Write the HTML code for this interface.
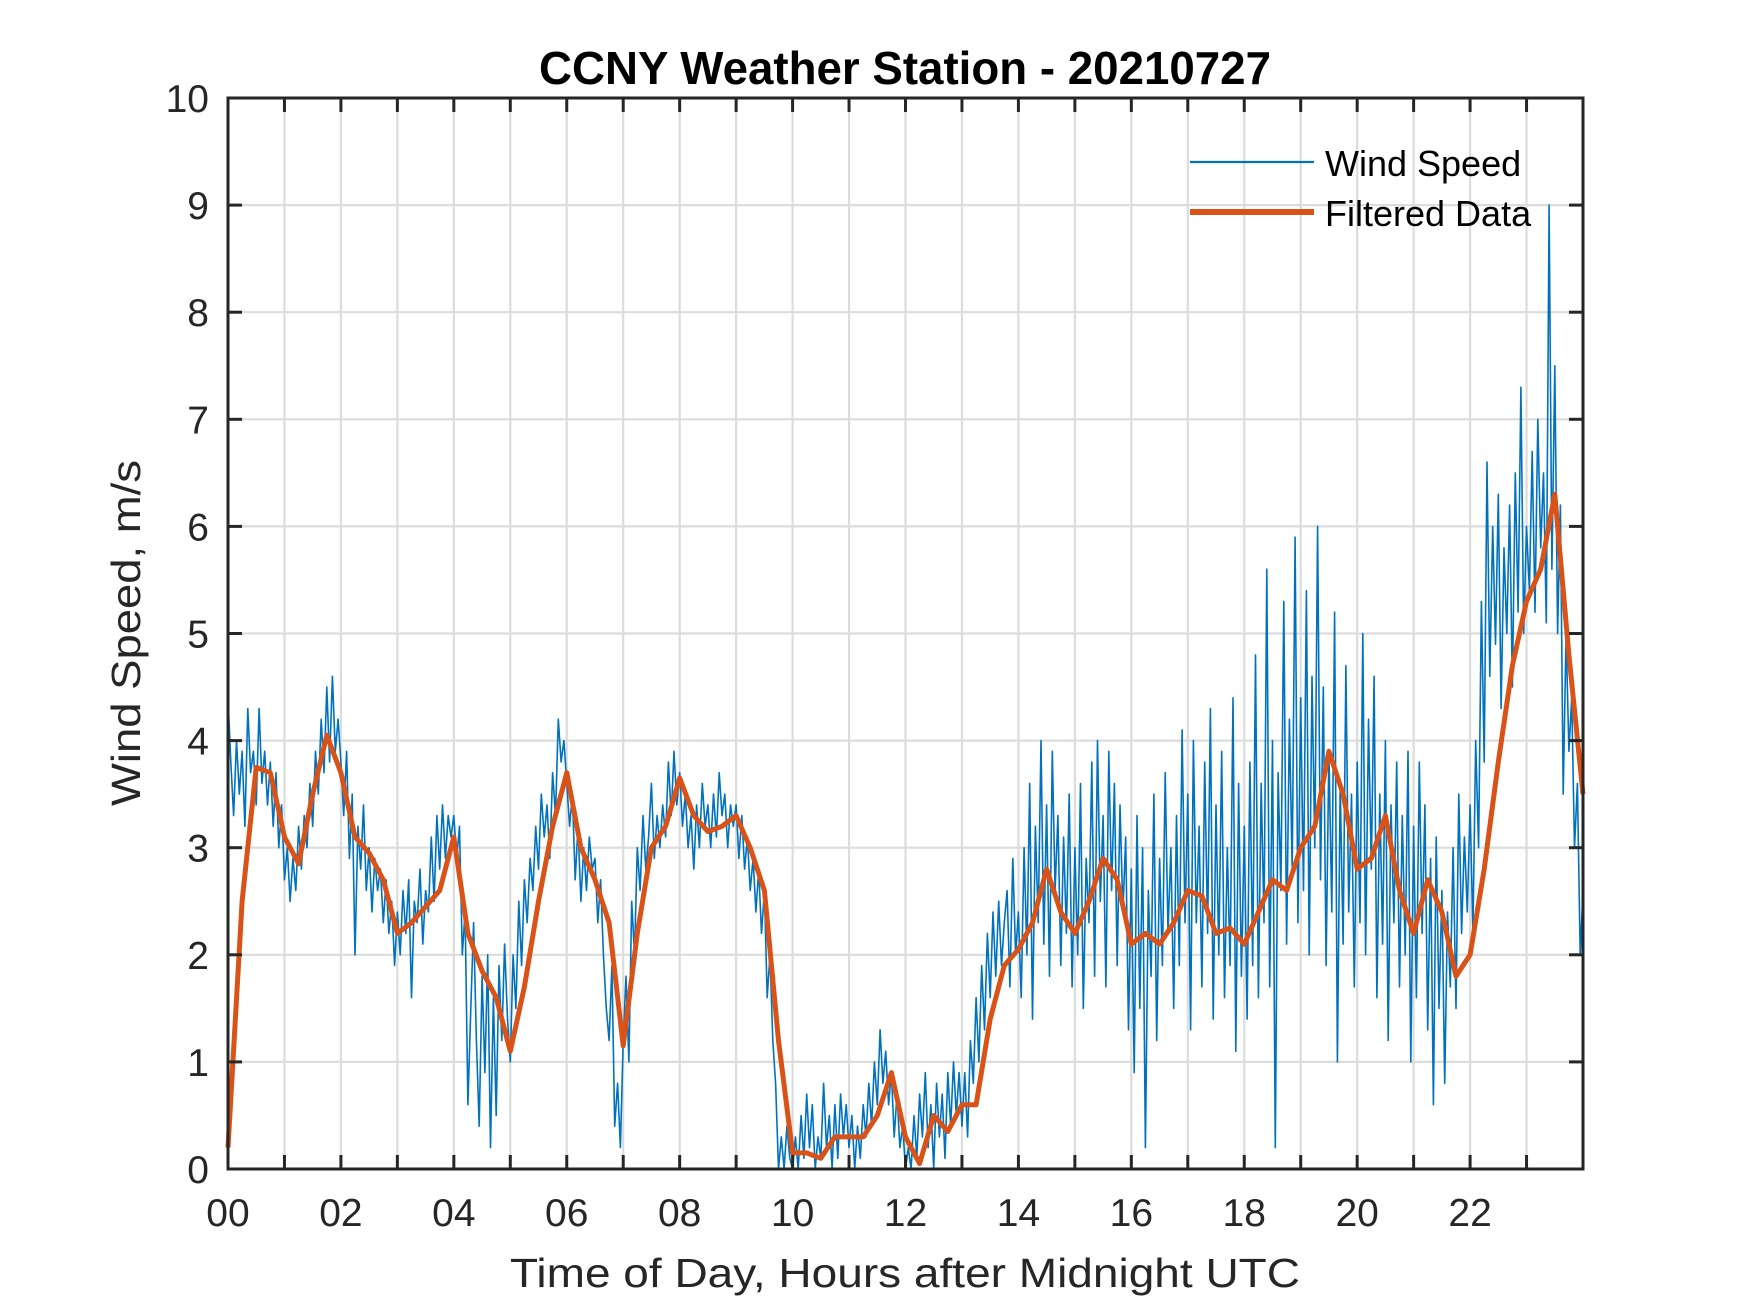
<!DOCTYPE html>
<html><head><meta charset="utf-8"><style>
html,body{margin:0;padding:0;background:#fff}
svg{display:block}
text{font-family:"Liberation Sans",Arial,sans-serif;fill:#262626}
</style></head><body>
<svg id="chart" width="1750" height="1313" viewBox="0 0 1750 1313" xmlns="http://www.w3.org/2000/svg">
<rect width="1750" height="1313" fill="#fff"/>
<g id="grid"></g>
<g id="series"></g>
<g id="axes"></g>
<text x="905" y="84" text-anchor="middle" font-size="46" font-weight="bold" textLength="732" lengthAdjust="spacingAndGlyphs" style="fill:#000">CCNY Weather Station - 20210727</text>
<text x="905" y="1287" text-anchor="middle" font-size="41" textLength="790" lengthAdjust="spacingAndGlyphs">Time of Day, Hours after Midnight UTC</text>
<text transform="translate(140,633) rotate(-90)" text-anchor="middle" font-size="41" textLength="346" lengthAdjust="spacingAndGlyphs">Wind Speed, m/s</text>
<g>
<g>
<line x1="1190" y1="162" x2="1314" y2="162" stroke="#0072BD" stroke-width="2.2"/>
<text x="1325" y="176" font-size="36" style="fill:#000">Wind Speed</text>
</g>
<g>
<line x1="1190" y1="212" x2="1314" y2="212" stroke="#D95319" stroke-width="6"/>
<text x="1325" y="226" font-size="36" style="fill:#000">Filtered Data</text>
</g>
</g>
</svg>
<script>
const xTickLabels = ["00","02","04","06","08","10","12","14","16","18","20","22"];
const yTickLabels = ["0","1","2","3","4","5","6","7","8","9","10"];
const rawStep = 0.05;
const rawSpeed = [
4.4,3.8,3.3,4.0,3.5,3.9,3.2,4.3,3.7,3.9,3.4,4.3,3.6,3.9,3.4,3.8,3.2,3.7,3.0,3.4,
2.7,3.0,2.5,2.9,2.6,3.2,2.8,3.3,3.0,3.6,3.2,3.9,3.5,4.2,3.7,4.5,3.8,4.6,3.9,4.2,
3.8,3.3,3.9,2.9,3.5,2.0,3.2,2.8,3.4,2.6,3.0,2.4,2.9,2.6,2.8,2.3,2.7,2.2,2.5,1.9,
2.4,2.0,2.6,2.2,2.7,1.6,2.5,2.3,2.8,2.1,2.6,2.4,3.1,2.5,3.3,2.8,3.4,2.9,3.3,3.1,
3.3,2.9,3.2,2.0,2.4,0.6,1.5,2.3,1.2,0.4,1.8,0.9,2.0,0.2,1.6,0.5,1.9,1.2,2.1,1.4,
1.0,2.0,1.5,2.5,1.9,2.7,2.3,2.9,2.6,3.2,2.8,3.5,3.1,3.4,2.9,3.7,3.3,4.2,3.8,4.0,
3.6,3.2,3.5,2.7,3.2,2.5,3.0,2.6,3.1,2.8,2.9,2.3,2.7,2.0,1.5,1.2,1.9,0.4,0.8,0.2,
1.2,1.8,1.0,2.5,2.0,3.0,2.6,3.3,2.8,3.1,3.6,2.9,3.3,3.0,3.4,3.1,3.8,3.3,3.9,3.4,
3.7,3.2,3.5,3.0,3.3,2.8,3.4,3.0,3.6,3.2,3.4,3.0,3.5,3.1,3.7,3.3,3.5,3.0,3.4,3.2,
3.4,2.9,3.3,2.8,3.1,2.6,2.9,2.4,2.8,2.2,2.6,1.6,2.0,1.2,0.8,0.0,0.3,0.0,0.4,0.1,
0.0,0.3,0.0,0.5,0.1,0.7,0.2,0.6,0.0,0.3,0.1,0.8,0.2,0.5,0.0,0.6,0.1,0.7,0.3,0.6,
0.2,0.5,0.0,0.4,0.1,0.6,0.3,0.8,0.4,1.0,0.6,1.3,0.8,1.1,0.6,0.9,0.3,0.7,0.2,0.4,
0.0,0.2,0.0,0.5,0.1,0.7,0.3,0.9,0.2,0.6,0.0,0.8,0.3,0.7,0.1,0.9,0.4,1.0,0.5,0.9,
0.4,0.9,0.3,1.2,0.8,1.6,1.0,1.9,1.3,2.2,1.6,2.4,1.8,2.5,1.9,2.3,2.6,1.7,2.9,2.0,
2.4,1.6,3.0,2.0,3.6,1.4,3.2,2.3,4.0,2.1,3.4,1.8,3.9,2.6,3.3,1.9,3.1,2.2,3.5,1.7,
3.0,2.0,3.6,1.5,2.9,2.3,3.8,1.8,4.0,2.5,3.3,1.7,3.9,2.6,3.6,1.9,3.4,2.4,3.1,1.3,
2.8,0.9,3.3,1.5,3.0,0.2,2.6,1.8,3.5,1.2,2.9,1.9,3.7,2.2,3.0,1.5,3.3,1.9,4.1,2.3,
3.5,1.3,4.0,2.3,3.2,1.7,3.8,2.2,4.3,1.4,3.4,2.0,3.9,1.6,3.0,1.9,4.4,1.1,3.6,1.8,
3.2,1.4,3.8,1.9,4.8,1.6,3.6,2.3,5.6,1.7,4.0,0.2,3.7,2.6,5.3,2.1,4.2,2.8,5.9,2.3,
4.4,2.6,5.4,2.0,4.6,3.0,6.0,2.7,4.5,1.9,3.9,2.4,5.2,1.0,3.6,2.1,4.7,2.4,3.5,1.7,
3.8,2.3,5.0,2.0,4.2,2.8,4.6,1.6,3.5,2.1,4.0,1.2,3.4,2.3,3.8,1.7,3.3,2.0,3.9,1.0,
3.2,1.6,3.8,2.2,3.4,1.3,2.9,0.6,3.1,1.5,2.6,0.8,2.4,1.7,3.0,1.5,3.5,2.2,3.1,2.4,
3.4,2.2,4.0,3.0,5.3,3.8,6.6,4.6,6.0,4.9,6.3,4.3,5.8,5.0,6.2,4.5,6.5,5.2,7.3,5.0,
6.0,5.4,6.7,5.2,7.0,5.8,6.5,5.1,9.0,5.6,7.5,5.0,6.2,3.5,5.0,3.9,4.4,3.0,3.6,2.0,
2.6];
const filtStep = 0.25;
const filteredSpeed = [
0.2,2.5,3.75,3.7,3.1,2.85,3.5,4.05,3.7,3.1,2.95,2.7,2.2,2.3,2.45,2.6,
3.1,2.2,1.85,1.6,1.1,1.7,2.5,3.2,3.7,3.0,2.7,2.3,1.15,2.2,3.0,3.2,
3.65,3.3,3.15,3.2,3.3,3.0,2.6,1.2,0.15,0.15,0.1,0.3,0.3,0.3,0.5,0.9,
0.3,0.05,0.5,0.35,0.6,0.6,1.4,1.9,2.05,2.3,2.8,2.4,2.2,2.5,2.9,2.7,
2.1,2.2,2.1,2.3,2.6,2.55,2.2,2.25,2.1,2.4,2.7,2.6,3.0,3.2,3.9,3.5,
2.8,2.9,3.3,2.6,2.2,2.7,2.4,1.8,2.0,2.8,3.8,4.7,5.3,5.6,6.3,4.8,3.5];

const NS="http://www.w3.org/2000/svg";
const L=228,R=1583,T=98,B=1169;
const X=h=>L+(R-L)*h/24;
const Y=v=>B-(B-T)*v/10;
function mk(tag,attrs,parent){const e=document.createElementNS(NS,tag);for(const k in attrs)e.setAttribute(k,attrs[k]);parent.appendChild(e);return e;}
const grid=document.getElementById('grid'),axes=document.getElementById('axes'),series=document.getElementById('series');
for(let h=1;h<24;h++){
  const g=mk('line',{x1:X(h),y1:T,x2:X(h),y2:B,stroke:'#dcdcdc','stroke-width':2.2},grid);
  
  
}
for(let v=1;v<10;v++){
  const g=mk('line',{x1:L,y1:Y(v),x2:R,y2:Y(v),stroke:'#dcdcdc','stroke-width':2.2},grid);
  
  
}
let d='';
rawSpeed.forEach((v,i)=>{d+=(i?'L':'M')+X(i*rawStep).toFixed(1)+','+Y(v).toFixed(1);});
const raw=mk('path',{d:d,fill:'none',stroke:'#0072BD','stroke-width':1.6,'stroke-linejoin':'round'},series);


d='';
filteredSpeed.forEach((v,i)=>{d+=(i?'L':'M')+X(i*filtStep).toFixed(1)+','+Y(v).toFixed(1);});
const filt=mk('path',{d:d,fill:'none',stroke:'#D95319','stroke-width':5,'stroke-linejoin':'round'},series);


// ticks
for(let h=0;h<=24;h++){
  const t1=mk('line',{x1:X(h),y1:B,x2:X(h),y2:B-14,stroke:'#262626','stroke-width':3},axes);
  
  
  const t2=mk('line',{x1:X(h),y1:T,x2:X(h),y2:T+14,stroke:'#262626','stroke-width':3},axes);
  
  
}
xTickLabels.forEach((s,i)=>{
  const t=mk('text',{x:X(i*2),y:1226,'text-anchor':'middle','font-size':39},axes);
  t.textContent=s;
  
  
});
yTickLabels.forEach((s,i)=>{
  const t1=mk('line',{x1:L,y1:Y(i),x2:L+14,y2:Y(i),stroke:'#262626','stroke-width':3},axes);
  
  
  const t2=mk('line',{x1:R,y1:Y(i),x2:R-14,y2:Y(i),stroke:'#262626','stroke-width':3},axes);
  
  
  const t=mk('text',{x:209,y:Y(i)+14,'text-anchor':'end','font-size':39},axes);
  t.textContent=s;
  
  
});
const box=mk('rect',{x:L,y:T,width:R-L,height:B-T,fill:'none',stroke:'#262626','stroke-width':3},axes);


</script>
</body></html>
